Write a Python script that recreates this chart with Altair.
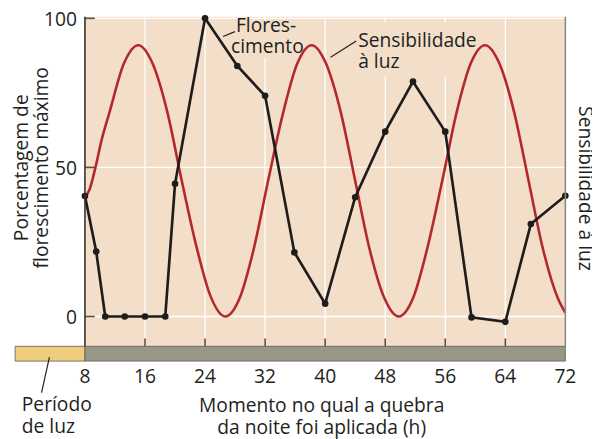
import altair as alt
import pandas as pd

# ---- data ----
flower_hours = [8, 9.5, 10.7, 13.3, 16, 18.7, 20, 24, 28.3, 32, 35.9, 40, 44, 48, 51.7, 56, 59.5, 64, 67.4, 72]
flower_values = [40.4, 21.8, 0, 0, 0, 0, 44.5, 100, 84, 74, 21.5, 4.3, 40, 62, 78.8, 62, -0.3, -1.8, 31, 40.5]

sens_hours = [8, 8.6, 9.4, 10.2, 11.25, 13.2, 15.1, 17.0, 19.0, 20.9, 22.8, 24.7, 26.7,
              28.6, 30.5, 32.4, 34.4, 36.3, 38.2, 40.1, 42.1, 44.0, 45.9, 47.9, 49.8,
              51.7, 53.6, 55.6, 57.5, 59.4, 61.3, 63.2, 65.2, 67.1, 69.0, 71.0, 72]
sens_values = [40, 42.5, 50, 59, 68.3, 84.9, 91, 84.9, 68.3, 45.5, 24, 7, 0,
               6.1, 22.8, 45.5, 68.3, 84.9, 91, 84.9, 68.3, 45.5, 22.8, 6.1, 0,
               6.1, 22.8, 45.5, 68.3, 84.9, 91, 84.9, 68.3, 45.5, 22.8, 6.1, 1.2]

x_ticks = [8, 16, 24, 32, 40, 48, 56, 64, 72]
x_tick_labels = ["8", "16", "24", "32", "40", "48", "56", "64", "72"]
inner_x_ticks = [16, 24, 32, 40, 48, 56, 64]
y_ticks = [0, 50, 100]
y_tick_labels = ["0", "50", "100"]
period_kind = ["luz", "escuro"]
period_start = [-1.3, 8]
period_end = [8, 72]

x_title = ["Momento no qual a quebra", "da noite foi aplicada (h)"]
y_title = ["Porcentagem de", "florescimento máximo"]
right_title = "Sensibilidade à luz"

# ---- style ----
FONT = "Open Sans"
FS = 19.5
TXT = "#231f20"
W, H = 487, 334
BG = "#f2dec9"
RED = "#b3272d"
BLK = "#1f1c1c"

flower_df = pd.DataFrame({"h": flower_hours, "v": flower_values})
sens_df = pd.DataFrame({"h": sens_hours, "v": sens_values})
period_df = pd.DataFrame({"kind": period_kind, "start": period_start, "end": period_end})
xlab_df = pd.DataFrame({"t": x_ticks, "label": x_tick_labels})
ylab_df = pd.DataFrame({"t": y_ticks, "label": y_tick_labels})
xt_df = pd.DataFrame({"t": inner_x_ticks})
one_df = pd.DataFrame({"i": [0]})

xs = alt.Scale(domain=[8, 72], nice=False, zero=False)
ys = alt.Scale(domain=[-10, 100.5], nice=False, zero=False)

X = alt.X("h:Q", scale=xs, axis=None)
Y = alt.Y("v:Q", scale=ys, axis=None)

# grid
vgrid = alt.Chart(xt_df).mark_rule(color="white", strokeWidth=1.3).encode(
    x=alt.X("t:Q", scale=xs, axis=None), y=alt.value(0), y2=alt.value(H))
hgrid = alt.Chart(ylab_df).mark_rule(color="white", strokeWidth=1.3).encode(
    y=alt.Y("t:Q", scale=ys, axis=None), x=alt.value(0), x2=alt.value(W))


def mask(x1, y1, x2, y2):
    # background-coloured box that hides gridlines behind the annotation labels
    return alt.Chart(one_df).mark_rect(color=BG).encode(
        x=alt.value(x1), x2=alt.value(x2), y=alt.value(y1), y2=alt.value(y2))


masks = [mask(144, 6, 222, 42), mask(246, 6, 400, 60)]

sens_line = alt.Chart(sens_df).mark_line(color=RED, strokeWidth=2.6, interpolate="monotone").encode(x=X, y=Y)
flower_line = alt.Chart(flower_df).mark_line(color=BLK, strokeWidth=2.7).encode(x=X, y=Y)
flower_pts = alt.Chart(flower_df).mark_circle(color=BLK, size=45, opacity=1).encode(x=X, y=Y)

bars = alt.Chart(period_df).mark_rect(stroke="#5e5a50", strokeWidth=0.8).encode(
    x=alt.X("start:Q", scale=xs, axis=None),
    x2="end:Q",
    y=alt.value(H),
    y2=alt.value(H + 15),
    color=alt.Color("kind:N", scale=alt.Scale(domain=period_kind, range=["#efcd7e", "#989687"]), legend=None),
)

xticks = alt.Chart(xt_df).mark_rule(color="#55504a", strokeWidth=1.6).encode(
    x=alt.X("t:Q", scale=xs, axis=None), y=alt.value(H - 8), y2=alt.value(H))
yticks = alt.Chart(ylab_df).mark_rule(color="#55504a", strokeWidth=1.6).encode(
    y=alt.Y("t:Q", scale=ys, axis=None), x=alt.value(0), x2=alt.value(10))
left_domain = alt.Chart(one_df).mark_rule(color="#3a302a", strokeWidth=1.6).encode(
    x=alt.value(0), y=alt.value(0), y2=alt.value(H))
right_border = alt.Chart(one_df).mark_rule(color="#8c8a80", strokeWidth=1.6).encode(
    x=alt.value(W), y=alt.value(0), y2=alt.value(H))

xlabels = alt.Chart(xlab_df).mark_text(font=FONT, fontSize=FS, color=TXT, align="center",
                                       baseline="alphabetic").encode(
    x=alt.X("t:Q", scale=xs, axis=None), y=alt.value(H + 37), text="label:N")
ylabels = alt.Chart(ylab_df).mark_text(font=FONT, fontSize=FS, color=TXT, align="right",
                                       baseline="middle", dy=2).encode(
    y=alt.Y("t:Q", scale=ys, axis=None), x=alt.value(-8), text="label:N")


def txt(s, x, y, align="left", angle=0):
    return alt.Chart(one_df).mark_text(text=s, font=FONT, fontSize=FS, color=TXT, align=align,
                                       baseline="alphabetic", angle=angle).encode(
        x=alt.value(x), y=alt.value(y))


def lead(x1, y1, x2, y2):
    return alt.Chart(one_df).mark_rule(color=TXT, strokeWidth=1.2).encode(
        x=alt.value(x1), y=alt.value(y1), x2=alt.value(x2), y2=alt.value(y2))


labels = [
    txt(x_title[0], 240, H + 67, align="center"),
    txt(x_title[1], 240, H + 88.5, align="center"),
    txt(y_title[0], -58, 153, align="center", angle=270),
    txt(y_title[1], -37, 153, align="center", angle=270),
    txt(right_title, 501, 174, align="center", angle=90),
    txt("Flores-", 153, 15),
    txt("cimento", 148, 36.7),
    lead(140, 20, 152, 15),
    txt("Sensibilidade", 277, 31),
    txt("à luz", 277, 52),
    lead(249, 41, 275, 24.5),
    txt("Período", -64, 400),
    txt("de luz", -64, 422),
    lead(-36, 345, -44, 381),
]

chart = alt.layer(
    vgrid, hgrid, *masks, sens_line, flower_line, flower_pts, bars, xticks, yticks,
    left_domain, right_border, xlabels, ylabels, *labels
).properties(
    width=W, height=H,
    background="white",
    autosize=alt.AutoSizeParams(type="none"),
    padding={"left": 78, "top": 6, "right": 27, "bottom": 91},
).configure_view(fill=BG, stroke=None)

chart.save("out.html", embed_options={"renderer": "svg", "actions": False})
